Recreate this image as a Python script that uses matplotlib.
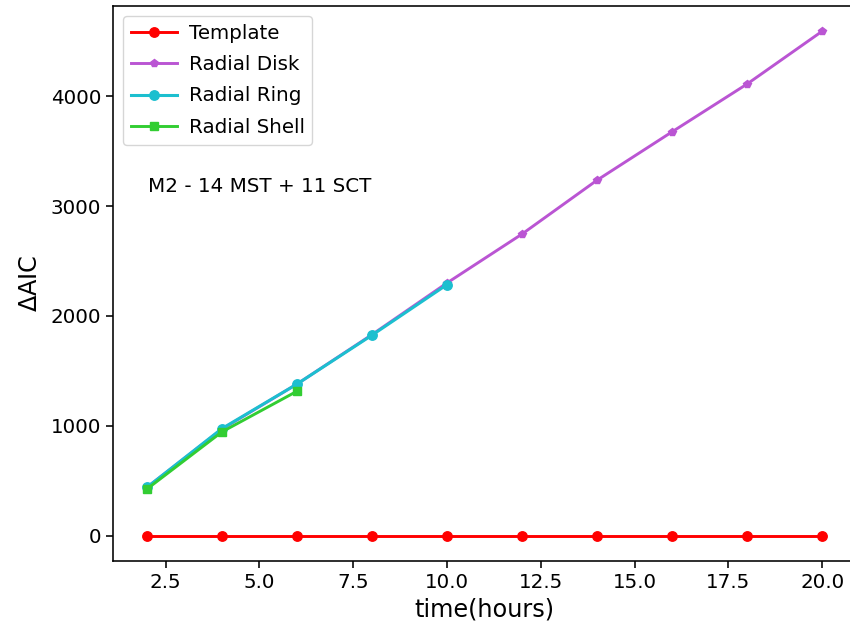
import matplotlib
matplotlib.use("Agg")
import matplotlib.pyplot as plt

# values
template_t = [2, 4, 6, 8, 10, 12, 14, 16, 18, 20]
template_aic = [0, 0, 0, 0, 0, 0, 0, 0, 0, 0]

disk_t = [2, 4, 6, 8, 10, 12, 14, 16, 18, 20]
disk_aic = [440, 970, 1380, 1830, 2300, 2745, 3235, 3675, 4110, 4590]

ring_t = [2, 4, 6, 8, 10]
ring_aic = [440, 975, 1380, 1825, 2285]

shell_t = [2, 4, 6]
shell_aic = [425, 945, 1315]


def plot_aic():
    fig = plt.figure(figsize=(8.5, 6.29), dpi=100)
    ax = fig.add_axes([0.133, 0.108, 0.874, 0.8825])

    ax.plot(template_t, template_aic, color="red", marker="o", lw=2.1,
            ms=6.8, label="Template")
    ax.plot(disk_t, disk_aic, color="mediumorchid", marker="p", lw=2.1,
            ms=6, label="Radial Disk")
    ax.plot(ring_t, ring_aic, color="#1cbfcf", marker="o", lw=2.2,
            ms=6.8, label="Radial Ring")
    ax.plot(shell_t, shell_aic, color="limegreen", marker="s", lw=2.1,
            ms=6.3, label="Radial Shell")

    ax.text(0.047, 0.675, "M2 - 14 MST + 11 SCT", transform=ax.transAxes,
            fontsize=14.3, va="center")

    ax.set_xlabel("time(hours)", fontsize=17.3)
    ax.set_ylabel(r"$\Delta$AIC", fontsize=17.3, labelpad=6)
    ax.tick_params(labelsize=14.3, width=1.15, length=5)
    for s in ax.spines.values():
        s.set_linewidth(1.15)
    ax.legend(loc="upper left", fontsize=14.3, labelspacing=0.62,
              handlelength=2.3, handletextpad=0.6)

    fig.savefig("out.png", dpi=100)


if __name__ == "__main__":
    plot_aic()
